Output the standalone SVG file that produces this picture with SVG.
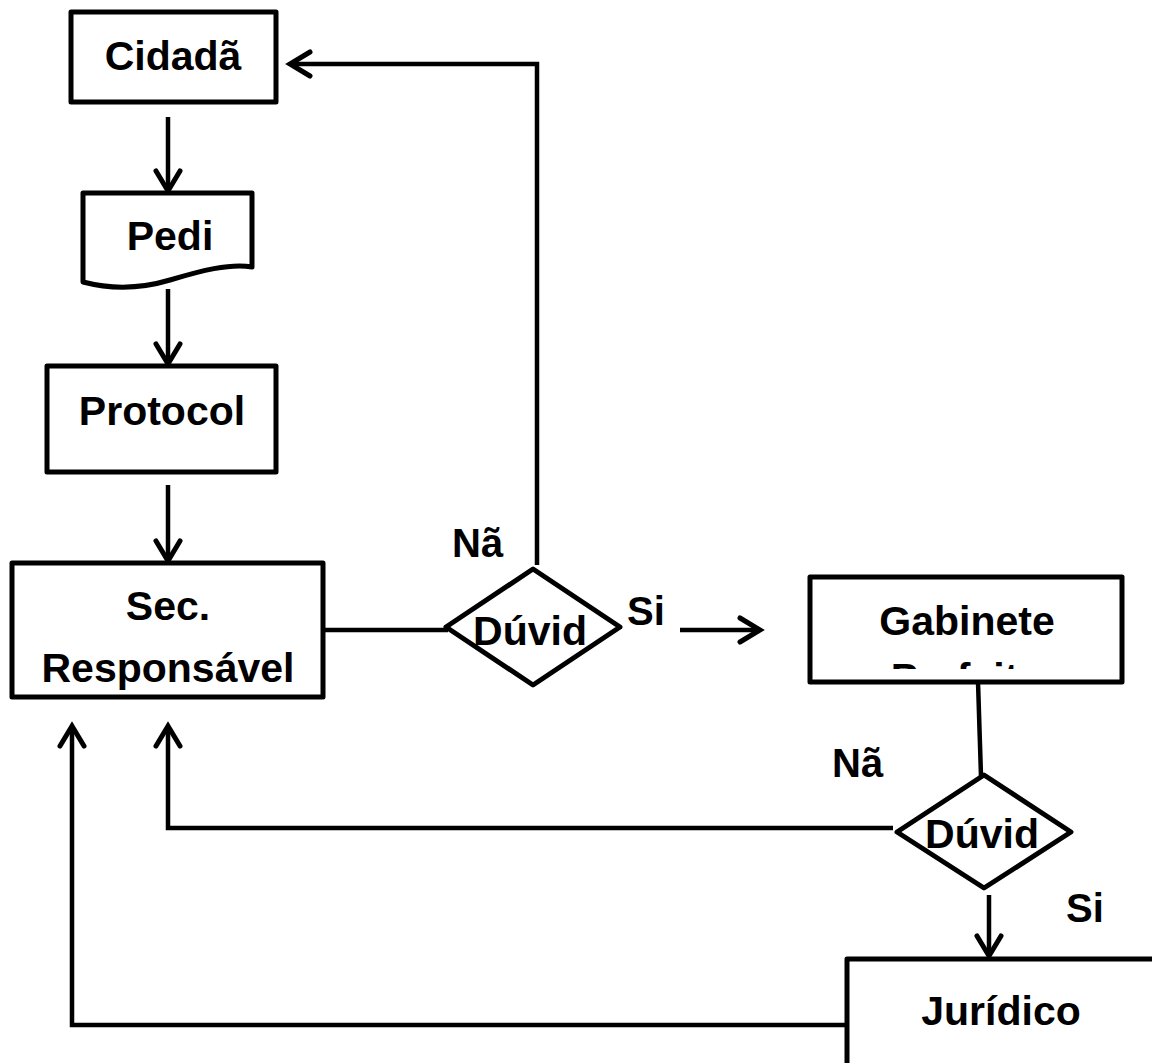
<svg xmlns="http://www.w3.org/2000/svg" width="1152" height="1063" viewBox="0 0 1152 1063">
<style>
.box{fill:#fff;stroke:#000;stroke-width:5;stroke-linejoin:round}
.t{font-family:"Liberation Sans",Arial,sans-serif;font-weight:bold;font-size:41px;fill:#000;text-anchor:middle}
.lbl{font-family:"Liberation Sans",Arial,sans-serif;font-weight:bold;font-size:40px;fill:#000}
.c{fill:none;stroke:#000;stroke-width:4.5}
.ca{fill:none;stroke:#000;stroke-width:4.5;marker-end:url(#ah)}
</style>
<defs>
<marker id="ah" markerUnits="userSpaceOnUse" markerWidth="40" markerHeight="40" viewBox="-25 -20 30 40" refX="0" refY="0" orient="auto">
<path d="M-20,-12 L0,0 L-20,12" fill="none" stroke="#000" stroke-width="5" stroke-linecap="round" stroke-linejoin="miter"/>
</marker>
<clipPath id="gabclip"><rect x="812" y="579" width="308" height="90"/></clipPath>
</defs>
<rect width="1152" height="1063" fill="#fff"/>
<g id="connectors">
<line class="ca" x1="168" y1="117" x2="168" y2="191"/>
<line class="ca" x1="168" y1="289" x2="168" y2="364"/>
<line class="ca" x1="168" y1="485" x2="168" y2="561"/>
<line class="c" x1="323" y1="630" x2="448" y2="630"/>
<polyline class="ca" points="537,565 537,64 290,64"/>
<line class="ca" x1="680" y1="630" x2="760" y2="630"/>
<line class="c" x1="978" y1="682" x2="981" y2="776"/>
<polyline class="ca" points="893,828 168,828 168,726"/>
<line class="ca" x1="989" y1="895" x2="989" y2="956"/>
<polyline class="ca" points="847,1025 72,1025 72,726"/>
</g>
<g id="cidada">
<rect class="box" x="71" y="12" width="205" height="90"/>
<text class="t" x="173" y="70">Cidadã</text>
</g>
<g id="pedi">
<path class="box" d="M83,193 H252 V267 C230,263 200,271 170,280 C140,289 110,289 83,282 Z"/>
<text class="t" x="170" y="250">Pedi</text>
</g>
<g id="protocol">
<rect class="box" x="47" y="366" width="229" height="106"/>
<text class="t" x="162" y="425">Protocol</text>
</g>
<g id="sec">
<rect class="box" x="12" y="563" width="311" height="134"/>
<text class="t" x="168" y="620">Sec.</text>
<text class="t" x="168" y="682">Responsável</text>
</g>
<g id="duvida1">
<polygon class="box" points="533,569 620,627 533,685 446,627" style="fill:none"/>
<text class="t" x="530" y="645">Dúvid</text>
</g>
<g id="gabinete">
<rect class="box" x="810" y="577" width="312" height="105"/>
<g clip-path="url(#gabclip)">
<text class="t" x="967" y="635">Gabinete</text>
<text class="t" x="967" y="692">Prefeito</text>
</g>
</g>
<g id="duvida2">
<polygon class="box" points="984,775 1071,832 984,888 897,832" style="fill:none"/>
<text class="t" x="982" y="848">Dúvid</text>
</g>
<g id="juridico">
<rect class="box" x="847" y="959" width="330" height="130"/>
<text class="t" x="1001" y="1025">Jurídico</text>
</g>
<g id="labels">
<text class="lbl" x="452" y="557">Nã</text>
<text class="lbl" x="627" y="625">Si</text>
<text class="lbl" x="832" y="777">Nã</text>
<text class="lbl" x="1066" y="922">Si</text>
</g>
</svg>
